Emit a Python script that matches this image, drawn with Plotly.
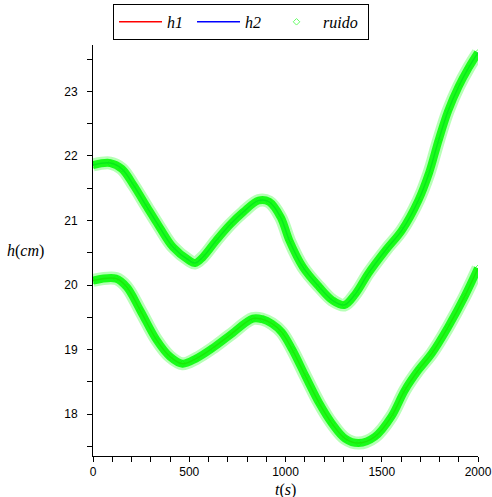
import plotly.graph_objects as go

# Level readings, h(cm) against time t(s)
t_h1 = [0, 120, 175, 245, 330, 400, 465, 535, 620, 710, 830, 880, 930, 980, 1035,
        1105, 1175, 1240, 1310, 1380, 1465, 1550, 1620, 1690, 1760, 1845, 1930, 2000]
h1 = [20.07, 20.10, 19.97, 19.61, 19.15, 18.89, 18.78, 18.86, 19.02, 19.22, 19.48, 19.47,
      19.40, 19.27, 19.00, 18.58, 18.17, 17.86, 17.62, 17.55, 17.65, 17.96, 18.37, 18.68,
      18.94, 19.35, 19.82, 20.26]

t_h2 = [0, 90, 150, 210, 280, 345, 415, 500, 530, 570, 640, 710, 780, 860, 915, 975,
        1020, 1090, 1175, 1245, 1305, 1365, 1430, 1520, 1605, 1690, 1745, 1795, 1845,
        1900, 1950, 2000]
h2 = [21.86, 21.89, 21.80, 21.55, 21.21, 20.90, 20.59, 20.38, 20.34, 20.43, 20.69, 20.93,
      21.13, 21.31, 21.29, 21.05, 20.69, 20.28, 19.97, 19.76, 19.69, 19.87, 20.18, 20.54,
      20.85, 21.31, 21.73, 22.24, 22.70, 23.08, 23.36, 23.60]

x_ticks = [0, 500, 1000, 1500, 2000]
y_ticks = [18, 19, 20, 21, 22, 23]

SERIF = "Liberation Serif"
SANS = "Liberation Sans"

fig = go.Figure()

# measurement points (drawn first so the band covers them)
fig.add_trace(go.Scatter(x=t_h1 + t_h2, y=h1 + h2, mode="markers", name="<i>ruido</i>",
                         legendrank=3, legendwidth=40,
                         marker=dict(symbol="diamond-open", size=5, color="#66ff66",
                                     line=dict(width=1, color="#66ff66"))))

# model curves
fig.add_trace(go.Scatter(x=t_h1, y=h1, mode="lines", name="<i>h1</i>", legendrank=1,
                         legendwidth=20,
                         line=dict(color="#ff0000", width=1.5, shape="spline")))
fig.add_trace(go.Scatter(x=t_h2, y=h2, mode="lines", name="<i>h2</i>", legendrank=2,
                         legendwidth=20,
                         line=dict(color="#0000ff", width=1.5, shape="spline")))

# noise band: a soft outer halo and a denser core along each curve
for tt, hh in ((t_h1, h1), (t_h2, h2)):
    fig.add_trace(go.Scatter(x=tt, y=hh, mode="lines", showlegend=False, hoverinfo="skip",
                             line=dict(color="rgba(110,255,110,0.5)", width=13, shape="spline")))
    fig.add_trace(go.Scatter(x=tt, y=hh, mode="lines", showlegend=False, hoverinfo="skip",
                             line=dict(color="rgba(0,250,0,0.86)", width=8, shape="spline")))

axis_common = dict(showline=True, linecolor="black", linewidth=1, showgrid=False,
                   zeroline=False, ticks="outside", ticklen=5, tickwidth=1,
                   tickcolor="black", tickfont=dict(family=SANS, size=12, color="black"),
                   ticklabeloverflow="allow")

fig.update_xaxes(range=[0, 2000], tickvals=x_ticks, ticktext=[str(v) for v in x_ticks],
                 minor=dict(dtick=100, ticks="outside", ticklen=5, tickcolor="black"),
                 **axis_common)
fig.update_yaxes(range=[17.35, 23.72], tickvals=y_ticks, ticktext=[str(v) for v in y_ticks],
                 minor=dict(dtick=0.5, tick0=17.5, ticks="outside", ticklen=5,
                            tickcolor="black"),
                 ticklabelstandoff=7, **axis_common)

fig.add_annotation(text="<i>h</i>(<i>cm</i>)", xref="paper", yref="paper",
                   x=-0.175, y=0.5, showarrow=False, xanchor="center", yanchor="middle",
                   font=dict(family=SERIF, size=16, color="black"))
fig.add_annotation(text="<i>t</i>(<i>s</i>)", xref="paper", yref="paper",
                   x=0.5, y=-0.083, showarrow=False, xanchor="center", yanchor="middle",
                   font=dict(family=SERIF, size=16, color="black"))

fig.update_layout(
    width=492, height=497,
    margin=dict(l=93, r=14, t=45, b=41, autoexpand=False),
    paper_bgcolor="white", plot_bgcolor="white",
    legend=dict(orientation="h", x=0.052, y=1.1, xanchor="left", yanchor="top",
                bordercolor="black", borderwidth=1, bgcolor="white",
                font=dict(family=SERIF, size=16, color="black"),
                itemwidth=43, tracegroupgap=0),
    showlegend=True,
)

fig.write_html("out.html")
